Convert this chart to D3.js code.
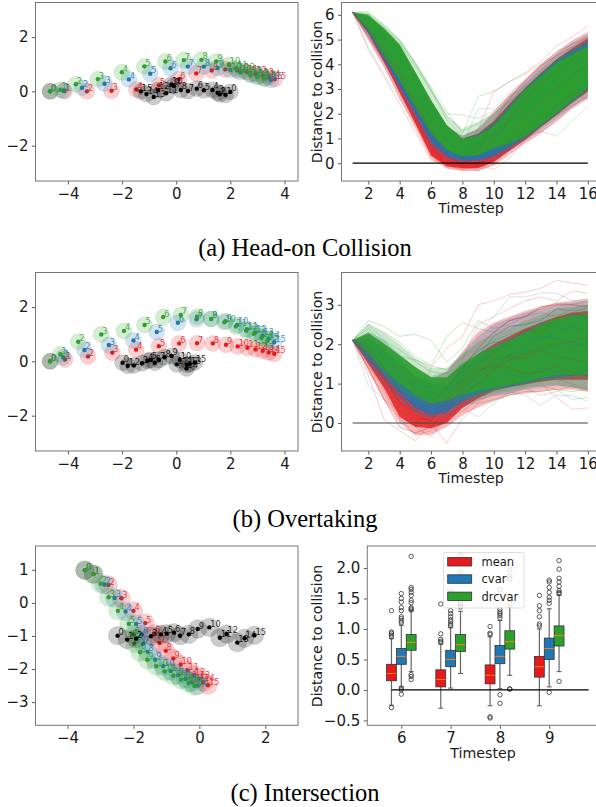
<!DOCTYPE html>
<html>
<head>
<meta charset="utf-8">
<script src="https://cdn.jsdelivr.net/npm/d3@7"></script>
<style>
body { margin: 0; background: #fff; }
svg { display: block; }
text { font-family: "DejaVu Sans"; fill: #1a1a1a; }
.caption { font-family: "Liberation Serif"; font-size: 24.5px; fill: #000; }
</style>
</head>
<body>
<script>
var RED = "#e41a1c", BLUE = "#1f77b4", GREEN = "#2ca02c", BLACK = "#000000";

// trajectories, [x, y] per timestep 0..15
var headRed = [[-4.66,0],[-4.13,.01],[-3.30,0],[-2.39,.02],[-1.47,.07],[-.64,.22],[.1,.45],[.74,.66],[1.31,.77],[1.82,.81],[2.25,.77],[2.61,.71],[2.92,.64],[3.19,.58],[3.42,.52],[3.64,.45]];
var headBlue = [[-4.66,0],[-4.17,.02],[-3.48,.13],[-2.65,.28],[-1.75,.44],[-.96,.65],[-.21,.85],[.43,.91],[1.02,.91],[1.53,.86],[2.0,.79],[2.37,.70],[2.74,.61],[3.0,.54],[3.26,.47],[3.5,.42]];
var headGreen = [[-4.66,0],[-4.28,.06],[-3.71,.26],[-2.90,.45],[-2.01,.70],[-1.18,.92],[-.40,1.10],[.28,1.15],[.93,1.16],[1.48,1.10],[1.94,.97],[2.22,.85],[2.49,.76],[2.74,.64],[3.0,.55],[3.26,.47]];
var headBlack = [[2.0,-.02],[1.82,-.13],[1.61,-.11],[1.53,-.05],[1.34,.05],[1.02,.04],[.76,.1],[.43,.01],[.17,.05],[-.09,.2],[-.18,.25],[-.37,-.07],[-.67,.05],[-.83,-.21],[-1.10,-.10],[-1.31,0]];

var overRed = [[-4.66,0],[-4.11,.07],[-3.26,.18],[-2.36,.32],[-1.48,.43],[-.64,.56],[.11,.66],[.77,.67],[1.35,.66],[1.84,.61],[2.27,.55],[2.63,.5],[2.93,.44],[3.2,.39],[3.42,.33],[3.62,.28]];
var overBlue = [[-4.66,0],[-4.18,.15],[-3.39,.42],[-2.49,.6],[-1.58,.77],[-.72,1.08],[.06,1.42],[.75,1.55],[1.29,1.56],[1.82,1.48],[2.25,1.34],[2.61,1.18],[2.92,1.06],[3.19,.94],[3.41,.83],[3.62,.7]];
var overGreen = [[-4.66,0],[-4.28,.26],[-3.62,.72],[-2.77,.99],[-1.93,1.12],[-1.17,1.34],[-.48,1.63],[.17,1.71],[.77,1.64],[1.29,1.56],[1.78,1.44],[2.2,1.28],[2.58,1.13],[2.87,1.01],[3.15,.86],[3.37,.75]];
var overBlack = [[-1.98,-.05],[-1.79,-.16],[-1.57,-.15],[-1.26,-.07],[-1.07,.02],[-.94,.05],[-.79,-.05],[-.64,.05],[-.43,.15],[-.17,.2],[.13,.05],[.02,-.11],[.4,-.13],[.5,-.1],[.38,-.26],[.69,-.04]];

var crossRed = [[-3.47,.99],[-3.2,.87],[-2.76,.54],[-2.37,.14],[-2.0,-.24],[-1.64,-.61],[-1.37,-.93],[-1.21,-1.21],[-1.02,-1.45],[-.79,-1.68],[-.57,-1.86],[-.36,-2.04],[-.16,-2.18],[-.02,-2.29],[.12,-2.39],[.26,-2.49]];
var crossBlue = [[-3.47,.99],[-3.22,.87],[-2.88,.55],[-2.57,.15],[-2.24,-.26],[-1.92,-.64],[-1.75,-.95],[-1.7,-1.24],[-1.57,-1.48],[-1.34,-1.72],[-1.1,-1.91],[-.87,-2.06],[-.64,-2.19],[-.42,-2.3],[-.23,-2.4],[-.06,-2.5]];
var crossGreen = [[-3.47,.99],[-3.22,.87],[-3.0,.58],[-2.75,.17],[-2.47,-.24],[-2.14,-.63],[-1.99,-.95],[-1.97,-1.23],[-1.8,-1.49],[-1.58,-1.72],[-1.31,-1.91],[-1.05,-2.07],[-.79,-2.2],[-.56,-2.32],[-.33,-2.42],[-.15,-2.51]];
var crossBlack = [[-2.48,-.99],[-2.19,-1.11],[-1.92,-1.08],[-1.47,-1.01],[-1.17,-.95],[-.99,-.93],[-.77,-.9],[-.59,-.99],[-.32,-.95],[-.05,-.79],[.3,-.74],[.62,-1.05],[.82,-.94],[1.15,-1.2],[1.37,-1.07],[1.67,-.98]];

// distance to collision bundles, one value per timestep 1..16
var timesteps = [1,2,3,4,5,6,7,8,9,10,11,12,13,14,15,16];

var headRedFuzzLow = [6.1,5.0,3.9,2.6,1.4,.15,-.2,-.3,-.3,-.1,.35,.8,1.2,1.7,2.2,2.6];
var headRedFuzzHigh = [6.1,5.9,5.4,4.7,3.6,2.5,1.5,1.1,1.4,2.1,2.8,3.4,4.0,4.5,4.95,5.3];
var headRedCoreLow = [6.1,5.25,4.1,2.85,1.6,.3,-.12,-.2,-.2,.05,.5,.95,1.45,1.95,2.45,2.9];
var headRedCoreHigh = [6.1,5.9,5.4,4.7,3.6,2.5,1.5,1.0,1.2,1.7,2.4,3.05,3.65,4.2,4.65,5.05];
var headBlueFuzzLow = [6.1,5.15,4.0,2.9,1.8,.65,.15,0,.02,.15,.5,.9,1.35,1.8,2.3,2.7];
var headBlueFuzzHigh = [6.1,5.9,5.4,4.7,3.6,2.5,1.5,1.1,1.4,2.0,2.7,3.3,3.9,4.4,4.85,5.2];
var headBlueCoreLow = [6.1,5.3,4.25,3.1,2.0,.85,.28,.1,.13,.3,.65,1.05,1.5,2.0,2.5,3.0];
var headBlueCoreHigh = [6.1,5.9,5.4,4.7,3.6,2.5,1.5,1.0,1.15,1.6,2.3,3.0,3.6,4.15,4.55,4.9];
var headGreenFuzzLow = [6.1,5.3,4.3,3.27,2.18,1.12,.45,.2,.25,.5,.7,1.0,1.45,1.9,2.4,2.85];
var headGreenFuzzHigh = [6.1,6.12,5.6,5.0,4.06,3.04,1.95,1.4,1.7,2.0,2.6,3.2,3.8,4.3,4.7,5.0];
var headGreenCoreLow = [6.1,5.4,4.38,3.37,2.28,1.22,.54,.27,.33,.62,.8,1.1,1.55,2.03,2.55,3.05];
var headGreenCoreHigh = [6.1,6.0,5.46,4.8,3.7,2.56,1.55,1.0,1.1,1.5,2.2,2.97,3.5,4.05,4.4,4.72];

var overRedFuzzLow = [2.1,1.3,.6,0,-.3,-.3,-.1,.2,.4,.55,.7,.75,.8,.85,.85,.8];
var overRedFuzzHigh = [2.1,2.3,2.0,1.6,1.2,1.1,1.3,1.8,2.3,2.55,2.7,2.85,2.95,3.05,3.1,3.15];
var overRedCoreLow = [2.1,1.5,.89,.15,-.1,-.13,0,.38,.62,.82,.9,.98,1.05,1.1,1.1,1.1];
var overRedCoreHigh = [2.1,2.0,1.6,1.2,.85,.75,.95,1.4,1.75,2.0,2.2,2.4,2.55,2.7,2.8,2.85];
var overBlueFuzzLow = [2.1,1.5,1.0,.55,.25,.1,.15,.4,.55,.7,.75,.85,.9,.95,.9,.85];
var overBlueFuzzHigh = [2.1,2.3,2.1,1.75,1.4,1.2,1.3,1.75,2.2,2.5,2.65,2.8,2.9,3.0,3.05,3.1];
var overBlueCoreLow = [2.1,1.6,1.2,.76,.38,.2,.28,.55,.72,.85,.92,1.0,1.1,1.15,1.2,1.2];
var overBlueCoreHigh = [2.1,2.15,1.9,1.55,1.2,1.0,1.0,1.4,1.7,1.9,2.1,2.3,2.5,2.6,2.7,2.75];
var overGreenFuzzLow = [2.1,1.65,1.2,.85,.6,.42,.48,.6,.65,.72,.8,.88,.95,.95,.9,.85];
var overGreenFuzzHigh = [2.1,2.5,2.3,2.0,1.65,1.4,1.4,1.75,2.05,2.25,2.4,2.6,2.75,2.9,2.95,3.0];
var overGreenCoreLow = [2.1,1.77,1.34,1.0,.71,.5,.58,.72,.82,.89,.97,1.04,1.14,1.22,1.22,1.22];
var overGreenCoreHigh = [2.1,2.28,2.02,1.72,1.42,1.16,1.16,1.5,1.75,1.92,2.1,2.3,2.5,2.66,2.72,2.78];

// single lines
var headRedLines = [
  [6.1,4.6,3.5,2.4,1.25,.1,.02,-.1,-.05,-.25,.2,.95,1.5,1.95,2.3,2.75],
  [6.1,5.7,5.0,4.2,3.3,2.3,1.2,.4,1.35,2.9,3.3,3.65,4.1,4.75,5.1,5.55],
  [6.1,5.3,4.5,3.7,2.7,1.6,.6,.1,.4,1.4,2.4,3.2,3.7,4.4,4.85,5.2],
  [6.1,5.0,3.9,2.8,1.8,.8,-.2,-.3,-.3,.1,.7,1.2,1.6,2.2,2.6,3.3],
  [6.1,5.4,4.6,3.6,2.5,1.4,.5,.2,.5,1.7,2.6,3.35,3.95,4.35,4.7,5.1],
  [6.1,5.2,4.2,3.2,2.1,1.0,.3,-.1,0,.3,.85,1.35,1.85,2.35,2.75,3.05],
  [6.1,5.5,4.5,3.5,2.4,1.3,.3,-.05,.3,1.0,1.75,2.5,3.2,3.7,4.2,4.6],
  [6.1,5.1,4.1,3.0,1.9,.7,-.1,-.25,-.1,.4,1.1,1.8,2.4,3.0,3.5,4.0]
];
var headBlueLines = [
  [6.1,4.7,3.6,2.6,1.6,.7,.1,-.1,-.3,0,.6,1.1,1.3,1.7,2.3,2.7],
  [6.1,5.6,4.9,4.1,3.2,2.2,1.2,.7,2.2,2.2,2.9,3.3,3.9,4.5,4.95,5.35],
  [6.1,5.4,4.3,3.3,2.2,1.1,.4,.15,.3,.9,1.7,2.3,2.9,3.4,3.9,4.3],
  [6.1,5.5,4.7,3.8,2.8,1.8,.9,.4,.6,1.2,1.9,2.6,3.3,3.9,4.4,4.8],
  [6.1,5.3,4.4,3.4,2.3,1.2,.5,.3,.3,.5,.9,1.2,1.7,2.2,2.8,3.3],
  [6.1,5.8,5.1,4.3,3.3,2.2,1.3,.7,.8,1.1,1.7,2.0,2.6,3.1,3.6,3.9]
];
var headGreenLines = [
  [6.1,6.15,5.6,5.0,4.1,3.1,2.1,1.2,2.7,2.9,3.3,3.6,4.0,4.5,4.8,5.1],
  [6.1,5.9,5.5,4.8,3.9,2.9,2.0,1.95,1.8,2.1,2.7,3.1,3.5,4.0,4.4,4.7],
  [6.1,5.1,4.2,3.2,2.2,1.3,.6,.4,.5,.6,.75,1.0,1.3,1.1,1.7,2.3],
  [6.1,5.5,4.9,4.2,3.3,2.4,1.5,.8,.9,1.2,1.7,2.3,2.7,2.9,2.8,2.6],
  [6.1,6.05,5.55,4.95,4.0,3.0,1.9,1.3,1.6,2.0,2.5,3.0,3.5,4.1,4.5,4.95],
  [6.1,6.0,5.45,4.9,4.05,2.95,1.75,1.1,1.3,1.6,2.1,2.75,3.3,3.8,4.2,4.55]
];
var overRedLines = [
  [2.1,1.2,.1,-.2,-.45,0,-.5,.1,.5,.9,1.2,1.3,1.0,.65,.35,.38],
  [2.1,1.9,1.3,.5,.3,1.4,1.9,2.2,3.0,3.1,3.26,3.32,3.42,3.62,3.55,3.5],
  [2.1,1.7,1.0,.4,0,.3,.9,1.6,2.5,2.7,2.9,3.1,3.2,3.1,3.35,3.3],
  [2.1,1.5,.8,.1,-.3,-.2,.1,.5,.95,1.2,1.3,1.2,1.15,1.1,1.0,.85],
  [2.1,1.6,.9,.3,-.1,-.35,.2,.3,.6,.7,.75,.9,.7,.8,.95,.8],
  [2.1,1.8,1.2,.7,.3,.5,.9,1.4,1.9,2.3,2.6,2.7,2.95,3.0,3.0,2.95],
  [2.1,1.4,.6,-.1,-.25,-.1,.3,.7,1.0,1.35,1.6,1.75,1.9,2.05,2.05,2.2],
  [2.1,1.9,1.4,.8,.4,.2,.6,1.1,1.5,1.75,2.1,2.35,2.3,2.65,2.8,2.7],
  [2.1,1.7,1.1,.5,.1,.1,.4,.9,1.25,1.6,1.7,1.65,1.85,1.7,1.6,1.55],
  [2.1,1.75,1.15,.55,.2,.05,.5,1.0,1.35,1.45,1.4,1.25,1.3,1.45,1.3,1.2]
];
var overBlueLines = [
  [2.1,.95,.6,.3,.1,.2,.4,.4,.15,.5,.8,.7,.45,.7,.7,.55],
  [2.1,2.5,2.1,1.6,1.3,1.1,1.3,1.8,2.3,2.7,3.2,3.2,3.3,3.3,3.1,3.15],
  [2.1,1.8,1.3,.9,.5,.4,.7,1.2,1.7,2.2,2.45,2.5,2.6,2.9,2.85,2.9],
  [2.1,1.9,1.4,1.0,.7,.6,.8,1.1,1.3,1.5,1.6,1.85,1.8,2.0,1.9,2.1],
  [2.1,1.7,1.2,.7,.45,.3,.5,.75,1.0,1.15,1.25,1.15,1.4,1.3,1.2,1.35],
  [2.1,2.0,1.6,1.2,.9,.75,.9,1.3,1.55,1.85,2.0,2.25,2.1,2.35,2.45,2.3],
  [2.1,1.6,1.1,.65,.3,.15,.4,.8,1.2,1.4,1.75,1.95,2.2,2.15,2.05,1.95],
  [2.1,2.1,1.7,1.3,1.0,.9,1.1,1.4,1.85,2.05,2.1,2.3,2.55,2.5,2.75,2.6]
];
var overGreenLines = [
  [2.1,2.6,2.45,2.2,2.25,2.1,1.55,1.9,2.6,2.4,2.5,2.7,2.9,3.05,3.0,3.1],
  [2.1,2.4,2.0,1.7,1.6,1.45,2.2,2.55,2.4,2.3,2.6,2.7,2.8,2.7,2.9,3.0],
  [2.1,1.4,1.0,.7,.5,.35,.4,.5,.5,.6,.7,.8,.8,.85,.6,.65],
  [2.1,2.5,2.3,2.05,1.7,1.45,1.35,1.65,2.0,2.3,2.45,2.5,2.65,2.75,2.8,2.95],
  [2.1,1.6,1.15,.8,.6,.45,.6,.65,.7,.8,.85,.95,.95,.85,.8,.85],
  [2.1,2.3,2.1,1.85,1.55,1.3,1.25,1.5,1.8,2.1,2.25,2.35,2.5,2.6,2.65,2.55]
];

// box plot, timesteps 6..9
var boxSteps = [6,7,8,9];
var meanStats = [
  {low:-.25,q1:.15,med:.27,q3:.42,high:.84,out:[1.3,.95,.93,.9,.87,-.29]},
  {low:-.3,q1:.05,med:.17,q3:.33,high:.75,out:[1.41,.92,.83,.8,.78]},
  {low:-.26,q1:.1,med:.24,q3:.41,high:.87,out:[1.04,.93,.91,-.44,-.46]},
  {low:-.26,q1:.21,med:.38,q3:.55,high:1.0,out:[1.55,1.38,1.3,1.2,1.08,1.05]}
];
var cvarStats = [
  {low:.05,q1:.42,med:.55,q3:.68,high:1.06,out:[1.58,1.5,1.44,1.35,1.3,1.2,1.17,1.13,1.1,.03,0,-.07]},
  {low:.03,q1:.38,med:.5,q3:.65,high:1.02,out:[1.6,1.3,1.25,1.2,1.15,1.12,1.08,1.05]},
  {low:.02,q1:.43,med:.55,q3:.73,high:1.14,out:[1.64,1.32,1.28,1.25,1.22,1.18,-.08,-.22]},
  {low:.05,q1:.5,med:.68,q3:.85,high:1.33,out:[1.8,1.77,1.68,1.6,1.52,1.47,1.42,-.04]}
];
var drcvarStats = [
  {low:.3,q1:.65,med:.78,q3:.91,high:1.3,out:[2.19,1.68,1.65,1.6,1.55,1.47,1.43,1.35,1.33,1.31,.25,.22,.17]},
  {low:.27,q1:.63,med:.74,q3:.91,high:1.29,out:[2.21,1.93,1.43,1.4,1.36]},
  {low:.24,q1:.67,med:.79,q3:.97,high:1.36,out:[1.97,1.87,1.82,1.42,.02,.01]},
  {low:.3,q1:.72,med:.89,q3:1.05,high:1.55,out:[2.12,1.98,1.83,1.77,1.7,1.63,1.6,1.58,.14]}
];
var legendNames = ["mean", "cvar", "drcvar"];

var svg = d3.select("body").append("svg").attr("width", 596).attr("height", 807);
svg.append("defs").append("filter").attr("id", "soft")
  .attr("filterUnits", "userSpaceOnUse").attr("x", 0).attr("y", 0).attr("width", 596).attr("height", 807)
  .append("feGaussianBlur").attr("stdDeviation", 0.7);
var clipCount = 0;

function makePanel(box, xDomain, yDomain, xTicks, yTicks) {
  var x = d3.scaleLinear().domain(xDomain).range([box.left, box.right]);
  var y = d3.scaleLinear().domain(yDomain).range([box.bottom, box.top]);
  var g = svg.append("g");
  clipCount++;
  var id = "clip" + clipCount;
  g.append("clipPath").attr("id", id).append("rect")
    .attr("x", box.left).attr("y", box.top)
    .attr("width", box.right - box.left).attr("height", box.bottom - box.top);
  var plot = g.append("g").attr("clip-path", "url(#" + id + ")");

  var fmt = function(d) { return yTicks.fmt ? d3.format(".1f")(d).replace("-", "\u2212") : String(d).replace("-", "\u2212"); };
  var ax = g.append("g").attr("transform", "translate(0," + box.bottom + ")")
    .call(d3.axisBottom(x).tickValues(xTicks).tickSize(3.5).tickPadding(3.5)
      .tickFormat(function(d) { return String(d).replace("-", "\u2212"); }));
  var ay = g.append("g").attr("transform", "translate(" + box.left + ",0)")
    .call(d3.axisLeft(y).tickValues(yTicks.values).tickSize(3.5).tickPadding(3.5).tickFormat(fmt));
  [ax, ay].forEach(function(a) {
    a.selectAll("text").style("font-family", "DejaVu Sans").style("font-size", "15px").attr("fill", "#1a1a1a");
    a.select(".domain").remove();
    a.selectAll("line").attr("stroke", "#333").attr("stroke-width", 0.8);
  });
  g.append("rect").attr("x", box.left).attr("y", box.top)
    .attr("width", box.right - box.left).attr("height", box.bottom - box.top)
    .attr("fill", "none").attr("stroke", "#777").attr("stroke-width", 1);
  return { x: x, y: y, plot: plot, box: box };
}

function drawTrack(p, track, color, radius) {
  var unit = p.x(1) - p.x(0);
  p.plot.selectAll(null).data(track).enter().append("circle")
    .attr("cx", function(d) { return p.x(d[0]); })
    .attr("cy", function(d) { return p.y(d[1]); })
    .attr("r", radius * unit)
    .attr("fill", color).attr("fill-opacity", 0.2)
    .attr("stroke", color).attr("stroke-opacity", 0.1);
  p.plot.selectAll(null).data(track).enter().append("circle")
    .attr("cx", function(d) { return p.x(d[0]); })
    .attr("cy", function(d) { return p.y(d[1]); })
    .attr("r", 2.2)
    .attr("fill", color);
  p.plot.selectAll(null).data(track).enter().append("text")
    .attr("x", function(d) { return p.x(d[0]) + 1; })
    .attr("y", function(d) { return p.y(d[1]) - 0.5; })
    .style("font-size", "8.2px").style("fill", color).style("fill-opacity", 0.85)
    .text(function(d, i) { return i; });
}

function drawBand(p, low, high, color, opacity) {
  var area = d3.area()
    .x(function(d, i) { return p.x(timesteps[i]); })
    .y0(function(d) { return p.y(d); })
    .y1(function(d, i) { return p.y(high[i]); });
  p.plot.append("path").datum(low).attr("d", area).attr("fill", color)
    .attr("fill-opacity", opacity).attr("filter", "url(#soft)");
}

function drawLines(p, rows, color, opacity) {
  var line = d3.line().x(function(d, i) { return p.x(timesteps[i]); }).y(function(d) { return p.y(d); });
  p.plot.selectAll(null).data(rows).enter().append("path")
    .attr("d", line).attr("fill", "none").attr("stroke", color)
    .attr("stroke-width", 1).attr("stroke-opacity", opacity);
}

function zeroLine(p, from, to, color) {
  p.plot.append("line").attr("x1", p.x(from)).attr("x2", p.x(to))
    .attr("y1", p.y(0)).attr("y2", p.y(0))
    .attr("stroke", color).attr("stroke-width", 1.2);
}

function axisLabels(cx, ty, cy) {
  svg.append("text").attr("transform", "translate(322," + cy + ") rotate(-90)")
    .attr("text-anchor", "middle").style("font-size", "14.2px").text("Distance to collision");
  svg.append("text").attr("x", cx).attr("y", ty)
    .attr("text-anchor", "middle").style("font-size", "14.2px").text("Timestep");
}

function caption(label, y) {
  svg.append("text").attr("class", "caption").attr("x", 305).attr("y", y)
    .attr("text-anchor", "middle").text(label);
}

// ---- (a) head-on
var p1 = makePanel({left:35.5,right:298,top:2.5,bottom:181}, [-5.2,4.5], [-3.3,3.27], [-4,-2,0,2,4], {values:[-2,0,2]});
[[headRed,RED],[headBlue,BLUE],[headGreen,GREEN],[headBlack,BLACK]].forEach(function(t) { drawTrack(p1, t[0], t[1], .295); });

var p2 = makePanel({left:341.5,right:599,top:2.5,bottom:181}, [.29,16.71], [-.72,6.5], [2,4,6,8,10,12,14,16], {values:[0,1,2,3,4,5,6]});
drawLines(p2, headRedLines, RED, .22);
drawLines(p2, headBlueLines, BLUE, .18);
drawLines(p2, headGreenLines, GREEN, .22);
drawBand(p2, headRedFuzzLow, headRedFuzzHigh, RED, .3);
drawBand(p2, headRedCoreLow, headRedCoreHigh, RED, .85);
drawBand(p2, headBlueFuzzLow, headBlueFuzzHigh, BLUE, .25);
drawBand(p2, headBlueCoreLow, headBlueCoreHigh, BLUE, .9);
drawBand(p2, headGreenFuzzLow, headGreenFuzzHigh, GREEN, .2);
drawBand(p2, headGreenCoreLow, headGreenCoreHigh, GREEN, .95);
drawLines(p2, headRedLines.slice(4), RED, .15);
drawLines(p2, headBlueLines.slice(2), BLUE, .2);
zeroLine(p2, 1, 16, "#000");
axisLabels(471, 213, 92);
caption("(a) Head-on Collision", 256);

// ---- (b) overtaking
var p3 = makePanel({left:35.5,right:298,top:272.5,bottom:451}, [-5.2,4.5], [-3.3,3.27], [-4,-2,0,2,4], {values:[-2,0,2]});
[[overRed,RED],[overBlue,BLUE],[overGreen,GREEN],[overBlack,BLACK]].forEach(function(t) { drawTrack(p3, t[0], t[1], .295); });

var p4 = makePanel({left:341.5,right:599,top:272.5,bottom:451}, [.29,16.71], [-.71,3.82], [2,4,6,8,10,12,14,16], {values:[0,1,2,3]});
drawLines(p4, overRedLines, RED, .22);
drawLines(p4, overBlueLines, BLUE, .2);
drawLines(p4, overGreenLines, GREEN, .25);
drawBand(p4, overRedFuzzLow, overRedFuzzHigh, RED, .3);
drawBand(p4, overRedCoreLow, overRedCoreHigh, RED, .8);
drawBand(p4, overBlueFuzzLow, overBlueFuzzHigh, BLUE, .25);
drawBand(p4, overBlueCoreLow, overBlueCoreHigh, BLUE, .85);
drawBand(p4, overGreenFuzzLow, overGreenFuzzHigh, GREEN, .25);
drawBand(p4, overGreenCoreLow, overGreenCoreHigh, GREEN, .9);
drawLines(p4, overRedLines.slice(5), RED, .22);
drawLines(p4, overBlueLines.slice(2), BLUE, .25);
zeroLine(p4, 1, 16, "#444");
axisLabels(471, 483, 362);
caption("(b) Overtaking", 527);

// ---- (c) intersection
var p5 = makePanel({left:35.5,right:298,top:546,bottom:725.3}, [-4.97,2.99], [-3.7,1.72], [-4,-2,0,2], {values:[-3,-2,-1,0,1]});
[[crossRed,RED],[crossBlue,BLUE],[crossGreen,GREEN],[crossBlack,BLACK]].forEach(function(t) { drawTrack(p5, t[0], t[1], .28); });

var p6 = makePanel({left:367.3,right:600,top:546,bottom:725.3}, [5.31,10.03], [-.58,2.36], boxSteps, {values:[-.5,0,.5,1,1.5,2], fmt:true});
var boxSeries = [
  {stats: meanStats, color: RED, shift: -.2},
  {stats: cvarStats, color: BLUE, shift: 0},
  {stats: drcvarStats, color: GREEN, shift: .2}
];
boxSeries.forEach(function(s) {
  var g = p6.plot.selectAll(null).data(s.stats).enter().append("g");
  var cx = function(d, i) { return p6.x(boxSteps[i] + s.shift); };
  var half = (p6.x(.1) - p6.x(0));
  g.append("line").attr("x1", cx).attr("x2", cx)
    .attr("y1", function(d) { return p6.y(d.low); }).attr("y2", function(d) { return p6.y(d.high); })
    .attr("stroke", "#666").attr("stroke-width", 1.2);
  ["low", "high"].forEach(function(k) {
    g.append("line").attr("x1", function(d, i) { return cx(d, i) - half / 2; }).attr("x2", function(d, i) { return cx(d, i) + half / 2; })
      .attr("y1", function(d) { return p6.y(d[k]); }).attr("y2", function(d) { return p6.y(d[k]); })
      .attr("stroke", "#555").attr("stroke-width", 1);
  });
  g.append("rect").attr("x", function(d, i) { return cx(d, i) - half; }).attr("width", half * 2)
    .attr("y", function(d) { return p6.y(d.q3); }).attr("height", function(d) { return p6.y(d.q1) - p6.y(d.q3); })
    .attr("fill", s.color).attr("stroke", "#333").attr("stroke-width", 0.8);
  g.append("line").attr("x1", function(d, i) { return cx(d, i) - half; }).attr("x2", function(d, i) { return cx(d, i) + half; })
    .attr("y1", function(d) { return p6.y(d.med); }).attr("y2", function(d) { return p6.y(d.med); })
    .attr("stroke", "#ff7f0e").attr("stroke-width", 1);
  g.each(function(d, i) {
    d3.select(this).selectAll("circle").data(d.out).enter().append("circle")
      .attr("cx", p6.x(boxSteps[i] + s.shift)).attr("cy", function(v) { return p6.y(v); })
      .attr("r", 2.2).attr("fill", "none").attr("stroke", "#333").attr("stroke-width", 0.8);
  });
});
zeroLine(p6, 5.8, 9.8, "#000");

var legend = svg.append("g");
legend.append("rect").attr("x", 443.5).attr("y", 552.5).attr("width", 80.5).attr("height", 55.5).attr("rx", 2)
  .attr("fill", "#fff").attr("fill-opacity", .8).attr("stroke", "#ccc").attr("stroke-opacity", .8).attr("stroke-width", .8);
legendNames.forEach(function(name, i) {
  var ly = 557.5 + i * 17.3;
  legend.append("rect").attr("x", 447.7).attr("y", ly).attr("width", 24).attr("height", 8.5)
    .attr("fill", boxSeries[i].color).attr("stroke", "#333").attr("stroke-width", .8);
  legend.append("text").attr("x", 481.5).attr("y", ly + 8.5).style("font-size", "11.5px").text(name);
});
axisLabels(483, 758, 636);
caption("(c) Intersection", 801);
</script>
</body>
</html>
